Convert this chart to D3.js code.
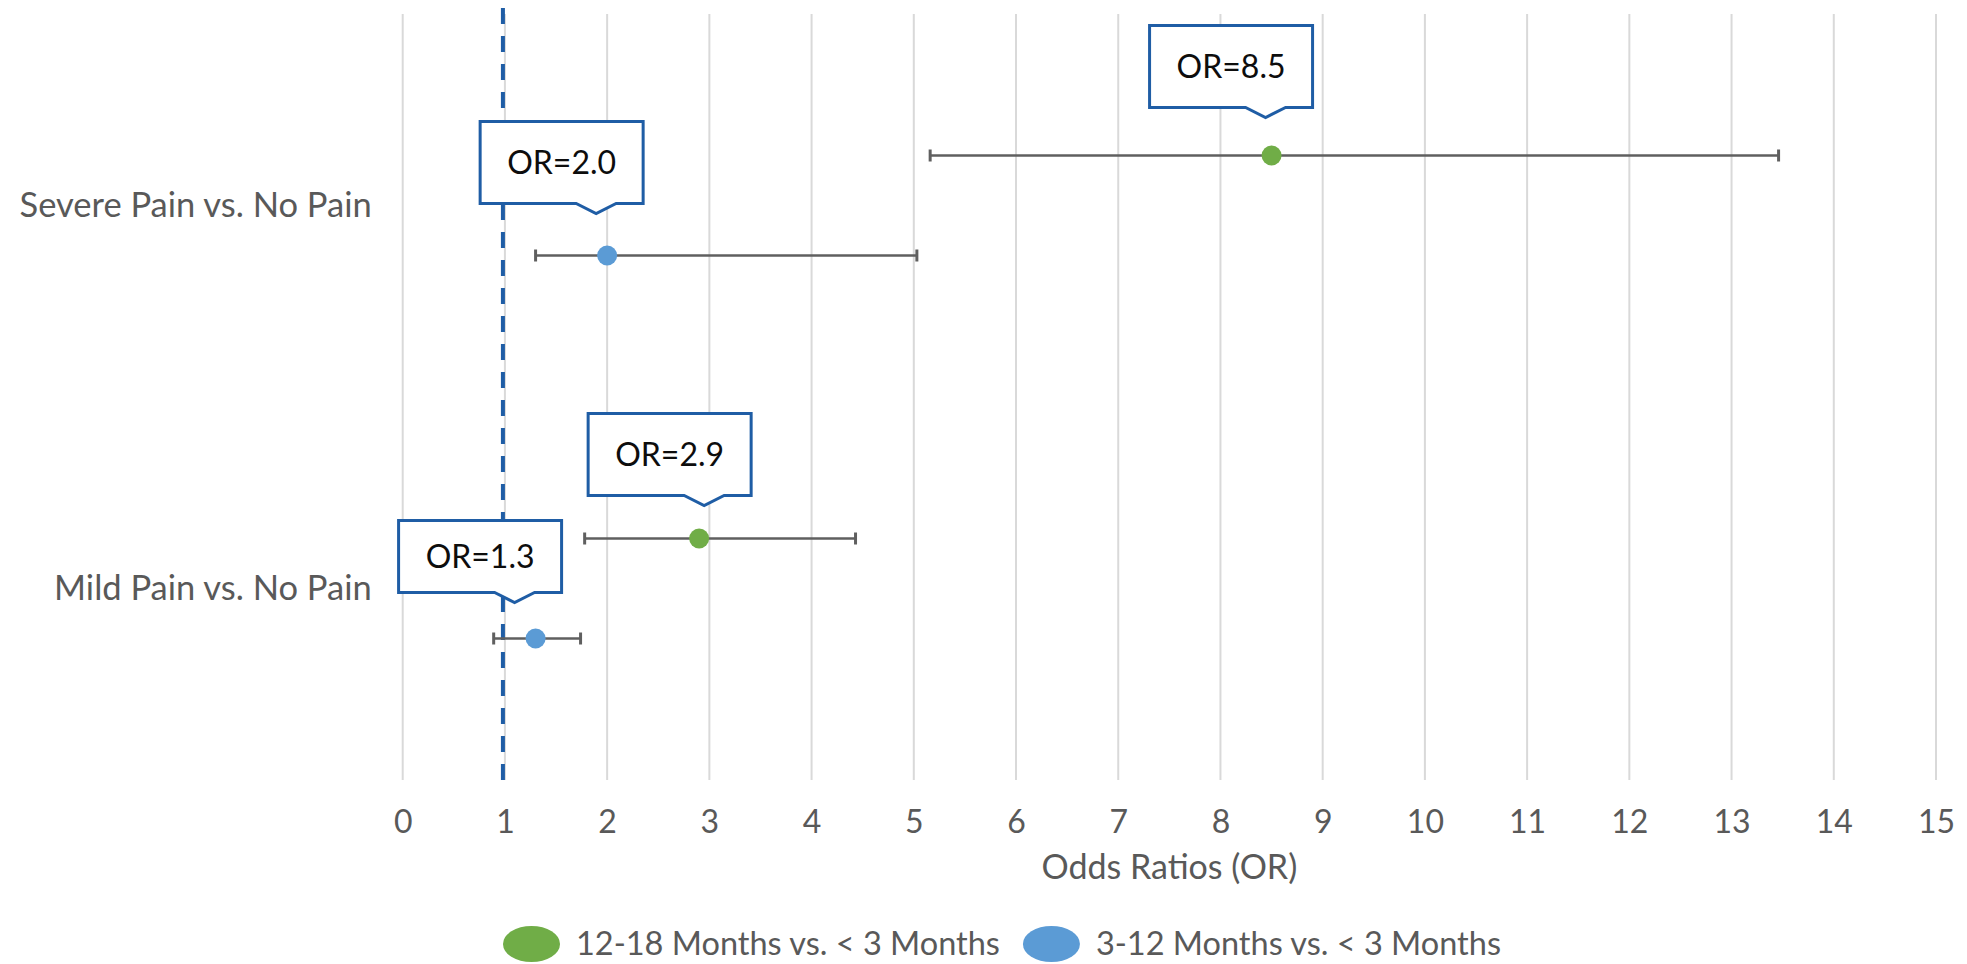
<!DOCTYPE html>
<html>
<head>
<meta charset="utf-8">
<script src="https://cdn.jsdelivr.net/npm/d3@7"></script>
<style>
  html, body { margin: 0; padding: 0; background: #ffffff; }
  svg { display: block; }
  text { font-family: "Lato", "Open Sans", "DejaVu Sans", sans-serif; }
</style>
</head>
<body>
<svg id="chart" width="1967" height="964"></svg>
<script>
// Comparison groups (rows) and time-window series
const categories = ["Severe Pain vs. No Pain", "Mild Pain vs. No Pain"];
const seriesNames = ["12-18 Months vs. < 3 Months", "3-12 Months vs. < 3 Months"];

// Odds ratios with 95% confidence limits, one entry per category
const or12to18 = [8.5, 2.9];
const ciLow12to18 = [5.16, 1.78];
const ciHigh12to18 = [13.46, 4.43];

const or3to12 = [2.0, 1.3];
const ciLow3to12 = [1.30, 0.89];
const ciHigh3to12 = [5.03, 1.74];

// Axis ticks and the null-effect reference value
const xTicks = [0, 1, 2, 3, 4, 5, 6, 7, 8, 9, 10, 11, 12, 13, 14, 15];
const referenceOR = 1;
const axisTitle = "Odds Ratios (OR)";

// Styling
const seriesColors = ["#70AD47", "#5B9BD5"];
const textColor = "#595959";
const gridColor = "#D9D9D9";
const calloutColor = "#1F5DA5";

// Callout placement relative to each point: tip offset and box height
const calloutLayout = [
  [{ dx: -6, dy: -38, h: 82 }, { dx: 5, dy: -33, h: 82 }],    // 12-18 months: severe, mild
  [{ dx: -11, dy: -42, h: 82 }, { dx: -21, dy: -36, h: 72 }]  // 3-12 months: severe, mild
];

const series = [
  { name: seriesNames[0], or: or12to18, lo: ciLow12to18, hi: ciHigh12to18, color: seriesColors[0] },
  { name: seriesNames[1], or: or3to12, lo: ciLow3to12, hi: ciHigh3to12, color: seriesColors[1] }
];

const svg = d3.select("#chart");
const plot = { left: 402.7, right: 1936, top: 14, bottom: 780 };

const x = d3.scaleLinear().domain([0, 15]).range([plot.left, plot.right]);
const y = d3.scaleBand().domain(categories).range([plot.top, plot.bottom]);
const ySeries = d3.scalePoint().domain(seriesNames).range([-50, 50]);

const cy = (ci, si) => y(categories[ci]) + y.bandwidth() / 2 + ySeries(seriesNames[si]);

// Vertical gridlines
svg.append("g")
  .selectAll("line")
  .data(xTicks)
  .join("line")
  .attr("x1", d => x(d)).attr("x2", d => x(d))
  .attr("y1", plot.top).attr("y2", plot.bottom)
  .attr("stroke", gridColor)
  .attr("stroke-width", 2);

// X axis tick labels
const xAxis = d3.axisBottom(x).tickValues(xTicks).tickSize(0).tickPadding(0).tickFormat(d3.format("d"));
const gx = svg.append("g").attr("transform", `translate(0,${plot.bottom})`).call(xAxis);
gx.select(".domain").remove();
gx.selectAll("text")
  .attr("y", 53)
  .attr("dy", 0)
  .attr("fill", textColor)
  .style("font-size", "32px");

// Axis title
svg.append("text")
  .attr("x", (plot.left + plot.right) / 2)
  .attr("y", 879)
  .attr("text-anchor", "middle")
  .attr("fill", textColor)
  .style("font-size", "34px")
  .text(axisTitle);

// Category labels
const yAxis = d3.axisLeft(y).tickSize(0).tickPadding(31);
const gy = svg.append("g").attr("transform", `translate(${plot.left},0)`).call(yAxis);
gy.select(".domain").remove();
gy.selectAll("text")
  .attr("fill", textColor)
  .style("font-size", "34.5px");

// Dashed reference line at OR = 1
svg.append("line")
  .attr("x1", x(referenceOR) - 2).attr("x2", x(referenceOR) - 2)
  .attr("y1", 8).attr("y2", plot.bottom)
  .attr("stroke", calloutColor)
  .attr("stroke-width", 4)
  .attr("stroke-dasharray", "16 12");

// Flatten into marks
const marks = [];
series.forEach((s, si) => {
  categories.forEach((c, ci) => {
    marks.push({ si, ci, or: s.or[ci], lo: s.lo[ci], hi: s.hi[ci], color: s.color, layout: calloutLayout[si][ci] });
  });
});

// Confidence interval whiskers
const eb = svg.append("g").attr("stroke", "#5F5F5F");
eb.selectAll("line.ci")
  .data(marks)
  .join("line")
  .attr("class", "ci")
  .attr("x1", d => x(d.lo)).attr("x2", d => x(d.hi))
  .attr("y1", d => cy(d.ci, d.si)).attr("y2", d => cy(d.ci, d.si))
  .attr("stroke-width", 2.5);
["lo", "hi"].forEach(end => {
  eb.selectAll(`line.cap-${end}`)
    .data(marks)
    .join("line")
    .attr("class", `cap-${end}`)
    .attr("x1", d => x(d[end])).attr("x2", d => x(d[end]))
    .attr("y1", d => cy(d.ci, d.si) - 6).attr("y2", d => cy(d.ci, d.si) + 6)
    .attr("stroke-width", 3);
});

// Point estimates
svg.append("g")
  .selectAll("circle")
  .data(marks)
  .join("circle")
  .attr("cx", d => x(d.or))
  .attr("cy", d => cy(d.ci, d.si))
  .attr("r", 10)
  .attr("fill", d => d.color);

// Value callouts
const boxW = 163, tipDepth = 10, tipHalf = 20, tipFromLeft = 116;
const fmt = d3.format(".1f");
const callouts = svg.append("g")
  .selectAll("g")
  .data(marks)
  .join("g");

callouts.append("path")
  .attr("d", d => {
    const tx = x(d.or) + d.layout.dx;
    const ty = cy(d.ci, d.si) + d.layout.dy;
    const bottom = ty - tipDepth;
    const top = bottom - d.layout.h;
    const left = tx - tipFromLeft;
    const right = left + boxW;
    return `M${left},${top}H${right}V${bottom}H${tx + tipHalf}L${tx},${ty}L${tx - tipHalf},${bottom}H${left}Z`;
  })
  .attr("fill", "#ffffff")
  .attr("stroke", calloutColor)
  .attr("stroke-width", 3)
  .attr("stroke-linejoin", "miter");

callouts.append("text")
  .attr("x", d => x(d.or) + d.layout.dx - tipFromLeft + boxW / 2)
  .attr("y", d => cy(d.ci, d.si) + d.layout.dy - tipDepth - d.layout.h / 2)
  .attr("dy", "0.35em")
  .attr("text-anchor", "middle")
  .attr("fill", "#0D0D0D")
  .style("font-size", "32px")
  .text(d => "OR=" + fmt(d.or));

// Legend
const legend = svg.append("g").attr("transform", "translate(503,944)");
let lx = 0;
series.forEach((s, i) => {
  const g = legend.append("g").attr("transform", `translate(${lx},0)`);
  g.append("ellipse").attr("cx", 28.5).attr("cy", 0).attr("rx", 28.5).attr("ry", 18).attr("fill", s.color);
  const t = g.append("text")
    .attr("x", 73)
    .attr("y", 0)
    .attr("dy", "0.35em")
    .attr("fill", textColor)
    .style("font-size", "32.5px")
    .text(s.name);
  lx += 73 + t.node().getComputedTextLength() + 23;
});
</script>
</body>
</html>
